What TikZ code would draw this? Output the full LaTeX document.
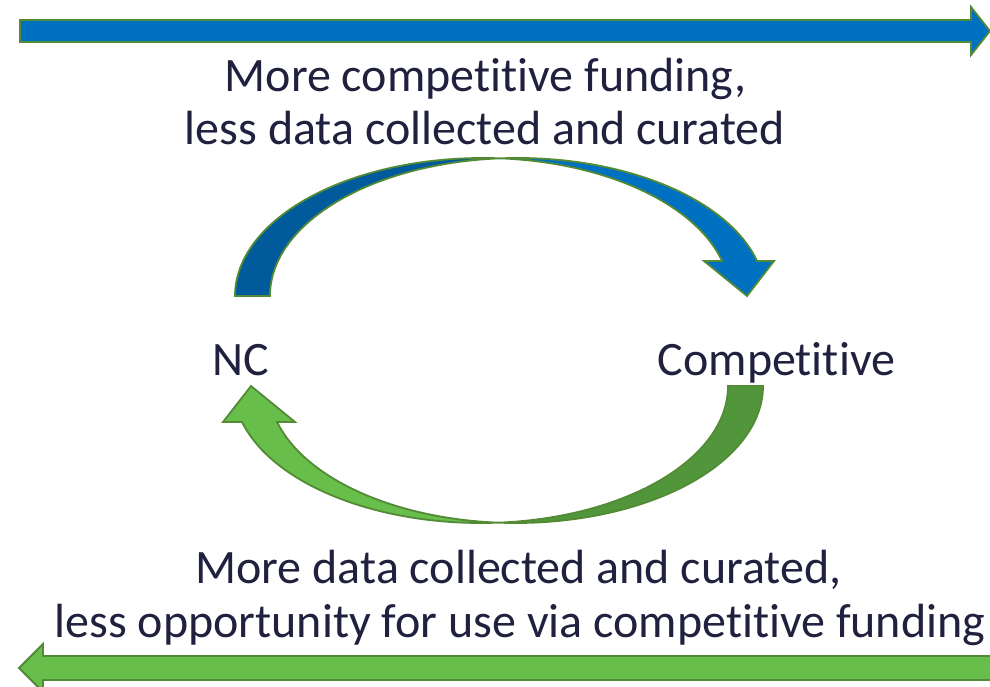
\documentclass[tikz,border=0pt]{standalone}
\usepackage{fontspec}
\setmainfont[RawFeature={-liga;-clig;-calt;-dlig}]{Carlito}
\definecolor{blueL}{HTML}{0070C0}
\definecolor{blueD}{HTML}{005A9C}
\definecolor{greenL}{HTML}{67BE4B}
\definecolor{greenD}{HTML}{52963B}
\definecolor{edge}{HTML}{538A35}
\definecolor{ink}{HTML}{20203F}
\tikzset{
  band/.style={draw=edge, line width=1.8pt, line join=miter},
  label/.style={text=ink, font=\fontsize{48}{56}\selectfont, inner sep=0pt, anchor=base},
}
\begin{document}
\begin{tikzpicture}[x=1pt,y=-1pt]
\useasboundingbox (0,0) rectangle (990,687);
\clip (0,0) rectangle (990,687);

% straight arrow across the top: towards competitive funding
\draw[band, fill=blueL] (20,20) -- (971,20) -- (971,7) -- (990,31) -- (971,55) -- (971,42) -- (20,42) -- cycle;

% straight arrow across the bottom: back towards NC
\draw[band, fill=greenL] (1000,656) -- (43,656) -- (43,644) -- (19,668) -- (43,692) -- (43,680) -- (1000,680) -- cycle;

% curved arrow NC -> Competitive (two offset half-ellipses)
\draw[band, fill=blueD] (235,296)
  arc[start angle=180, end angle=274.05, x radius=247.6, y radius=138]
  arc[start angle=265.95, end angle=180, x radius=247.6, y radius=138] -- cycle;
\draw[band, fill=blueL] (722.1,261)
  arc[start angle=345.31, end angle=274.05, x radius=247.6, y radius=138]
  arc[start angle=265.95, end angle=345.31, x radius=247.6, y radius=138]
  -- (774,261) -- (747,296) -- (704,261) -- cycle;

% curved arrow Competitive -> NC
\draw[band, fill=greenD] (763,386)
  arc[start angle=0, end angle=94.06, x radius=247.3, y radius=137]
  arc[start angle=85.94, end angle=0, x radius=247.3, y radius=137] -- cycle;
\draw[band, fill=greenL] (277.1,422)
  arc[start angle=164.76, end angle=94.06, x radius=247.3, y radius=137]
  arc[start angle=85.94, end angle=164.76, x radius=247.3, y radius=137]
  -- (223,422) -- (251,386) -- (295,422) -- cycle;

% labels
\node[label] (top1) at (485.5,92) {More competitive funding,};
\node[label] (top2) at (485,145) {less data collected and curated};
\node[label] (nc) at (240.5,375) {NC};
\node[label] (comp) at (776.5,375) {Competitive};
\node[label] (bot1) at (518.5,583) {More data collected and curated,};
\node[label] (bot2) at (520,637) {less opportunity for use via competitive funding};
\end{tikzpicture}
\end{document}
